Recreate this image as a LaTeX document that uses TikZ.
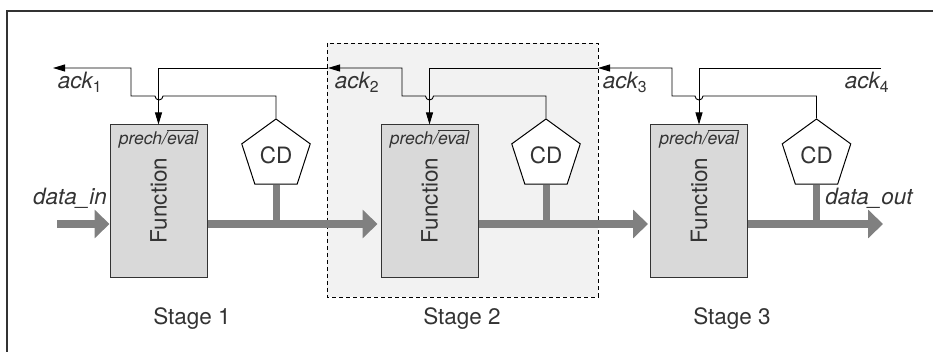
\documentclass[tikz,border=0pt]{standalone}
\usepackage{fontspec}
\setmainfont{TeX Gyre Heros}
\usetikzlibrary{shapes.geometric,arrows.meta}
\definecolor{txt}{HTML}{333333}
\definecolor{boxfill}{HTML}{D9D9D9}
\definecolor{busgray}{HTML}{808080}
\definecolor{stagefill}{HTML}{F2F2F2}
\newcommand{\ovl}[1]{\leavevmode\vbox{\hrule height 0.8pt\kern1.2pt\hbox{#1}}}
\tikzset{
  fbox/.style={draw=txt,line width=1pt,fill=boxfill,minimum width=97pt,minimum height=153pt,inner sep=0pt},
  cdshape/.style={regular polygon,regular polygon sides=5,draw=black,line width=1pt,fill=white,minimum size=72pt,inner sep=0pt,text=txt,font=\fontsize{22.5}{26}\selectfont},
  lbl/.style={text=txt,font=\fontsize{22.5}{26}\selectfont,inner sep=0pt},
  ilbl/.style={text=txt,font=\fontsize{22.5}{26}\selectfont\itshape,inner sep=0pt},
  plbl/.style={text=txt,font=\fontsize{17.5}{20}\selectfont\itshape,inner sep=0pt},
  wire/.style={draw=black,line width=0.9pt},
  wtip/.style={-{Triangle[length=12pt,width=7pt]}},
  busarrow/.style={draw=busgray,line width=8pt,-{Triangle[length=15pt,width=28pt]}},
  stem/.style={draw=busgray,line width=7pt},
}
\begin{document}
\begin{tikzpicture}[x=1pt,y=-1pt]
\useasboundingbox (0,0) rectangle (933,352);
% outer frame (top and left edges)
\draw[draw=txt,line width=1.5pt] (7,352) -- (7,11) -- (933,11);
% stage 2 highlight
\draw[fill=stagefill,draw=black,line width=0.9pt,dash pattern=on 4pt off 3pt] (327,43) rectangle (598,297);

% function boxes
\node[fbox] (box1) at (158.5,201.5) {};
\node[fbox] (box2) at (429.5,201.5) {};
\node[fbox] (box3) at (699,201.5) {};
\foreach \b in {1,2,3}{
  \node[lbl,rotate=90] (fn\b) at ([yshift=1pt]box\b.center) {Function};
  \node[plbl] (pe\b) at (box\b.center |- 0,139) {prech/\ovl{eval}};
}

% completion detectors
\node[cdshape] (cd1) at (276,155) {CD};
\node[cdshape] (cd2) at (546,155) {CD};
\node[cdshape] (cd3) at (816.5,155) {CD};

% data path
\coordinate (din) at (57,224);
\coordinate (dout) at (883,224);
\foreach \c in {1,2,3}{
  \draw[stem] (cd\c.south) -- (cd\c.south |- 0,224);
}
\draw[busarrow] (din) -- (box1.west |- din);
\draw[busarrow] (box1.east |- din) -- ([xshift=-3pt]box2.west |- din);
\draw[busarrow] (box2.east |- din) -- ([xshift=-2pt]box3.west |- din);
\draw[busarrow] (box3.east |- din) -- (dout);

% handshake wires
\coordinate (ack1) at (53,68);
\coordinate (ack2) at (328,68);
\coordinate (ack3) at (598,68);
\coordinate (ack4) at (881,68);

\draw[wire,wtip] (cd1.corner 1) -- (cd1.corner 1 |- 0,96) -- (163,96)
   arc[start angle=0,end angle=180,radius=4] -- (131,96) -- (131,68) -- (ack1);
\draw[wire,wtip] (cd2.corner 1) -- (cd2.corner 1 |- 0,96) -- (433.5,96)
   arc[start angle=0,end angle=180,radius=4] -- (402,96) -- (402,68) -- (ack2);
\draw[wire,wtip] (cd3.corner 1) -- (cd3.corner 1 |- 0,96) -- (703,96)
   arc[start angle=0,end angle=180,radius=4] -- (672,96) -- (672,68) -- (ack3);

\draw[wire,wtip] (ack2) -- (box1.north |- ack2) -- (box1.north);
\draw[wire,wtip] (ack3) -- (box2.north |- ack3) -- (box2.north);
\draw[wire,wtip] (ack4) -- (box3.north |- ack4) -- (box3.north);

% labels
\node[ilbl] (l1) at (80,82) {ack\textsubscript{\upshape 1}};
\node[ilbl] (l2) at (357,82) {ack\textsubscript{\upshape 2}};
\node[ilbl] (l3) at (625,82) {ack\textsubscript{\upshape 3}};
\node[ilbl] (l4) at (867,82) {ack\textsubscript{\upshape 4}};
\node[ilbl,anchor=east] (ldin) at (107,198) {data\_in};
\node[ilbl] (ldout) at (869,198) {data\_out};
\node[lbl] (s1) at (192,319) {Stage 1};
\node[lbl] (s2) at (462,319) {Stage 2};
\node[lbl] (s3) at (732,319) {Stage 3};
\end{tikzpicture}
\end{document}
